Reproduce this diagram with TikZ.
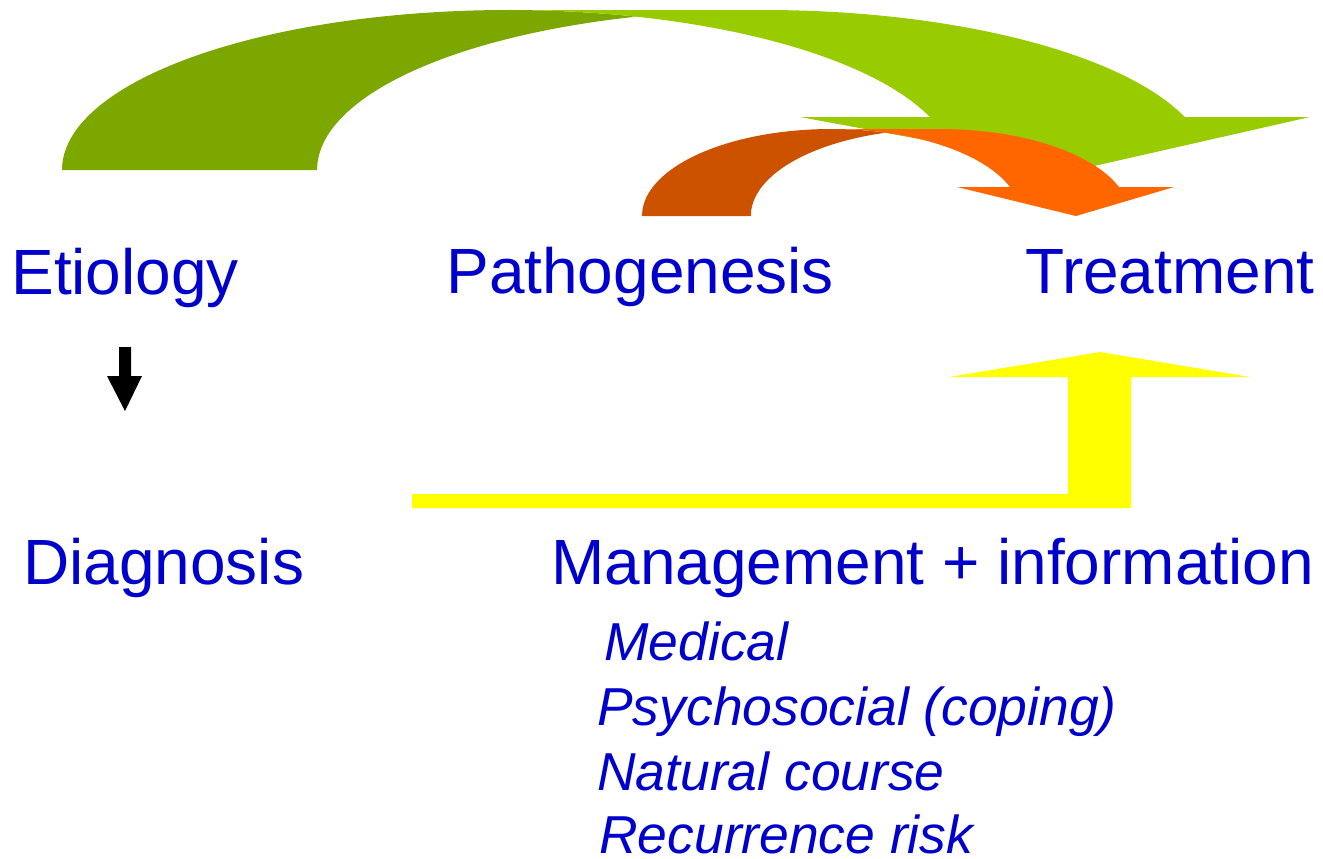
\documentclass[tikz,border=0pt]{standalone}
\usepackage{fontspec}
\setmainfont{Liberation Sans}
\definecolor{olivegreen}{RGB}{124,166,0}
\definecolor{limegreen}{RGB}{153,204,0}
\definecolor{rustorange}{RGB}{204,82,0}
\definecolor{brightorange}{RGB}{255,102,0}
\definecolor{pureyellow}{RGB}{255,255,0}
\definecolor{titleblue}{RGB}{0,0,204}
\begin{document}
\begin{tikzpicture}[x=0.02cm,y=-0.02cm,
  heading/.style={anchor=base west,inner sep=0pt,text=titleblue,font=\fontsize{36.4}{40}\selectfont},
  subitem/.style={anchor=base west,inner sep=0pt,text depth=0pt,text=titleblue,font=\fontsize{30.4}{33}\selectfont\itshape},
  bigarc/.style={x radius=446.5,y radius=160},
  smallarc/.style={x radius=189.4,y radius=87}]
\useasboundingbox (0,0) rectangle (1323,859);

% Etiology -> Treatment (big curved arrow)
\fill[olivegreen] (62,170) arc[start angle=180,end angle=286.6,bigarc]
  arc[start angle=253.4,end angle=180,bigarc] -- cycle;
\fill[limegreen] (508.5,10) -- (763.5,10) arc[start angle=270,end angle=340.66,bigarc]
  -- (1310,117) -- (1081,169) -- (800,117) -- (929.8,117)
  arc[start angle=340.66,end angle=270,bigarc] -- cycle;

% Pathogenesis -> Treatment (small curved arrow)
\fill[rustorange] (642,216) arc[start angle=180,end angle=286.7,smallarc]
  arc[start angle=253.3,end angle=180,smallarc] -- cycle;
\fill[brightorange] (831.4,129) -- (940.4,129) arc[start angle=270,end angle=340.53,smallarc]
  -- (1174,187) -- (1076,216) -- (957,187) -- (1010,187)
  arc[start angle=340.53,end angle=270,smallarc] -- cycle;

% Etiology -> Diagnosis
\fill[black] (119,347) -- (131,347) -- (131,376) -- (142,376) -- (125,411)
  -- (107,376) -- (119,376) -- cycle;

% Management -> Treatment (bent arrow)
\fill[pureyellow] (412,494) -- (1068,494) -- (1068,377) -- (949,377) -- (1100,352)
  -- (1250,377) -- (1131,377) -- (1131,508) -- (412,508) -- cycle;

% Headings
\node[heading] (etiology) at (11,294) {Etiology};
\node[heading] (pathogenesis) at (446,293) {Pathogenesis};
\node[heading] (treatment) at (1025,293) {Treatment};
\node[heading] (diagnosis) at (23,584) {Diagnosis};
\node[heading] (management) at (551,584) {Management + information};

% Management items
\foreach \txt/\xx/\yy [count=\i] in {Medical/604/660,Psychosocial (coping)/597/725,
    Natural course/597/790,Recurrence risk/599/853}
  \node[subitem] (item\i) at (\xx,\yy) {\txt};
\end{tikzpicture}
\end{document}
